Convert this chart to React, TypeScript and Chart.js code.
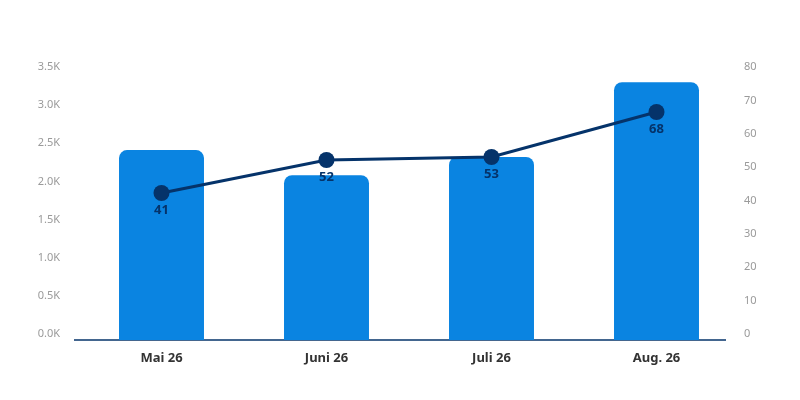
import React, { useEffect, useRef } from 'react';
import { Chart, registerables } from 'chart.js';

Chart.register(...registerables);

const months = ['Mai 26', 'Juni 26', 'Juli 26', 'Aug. 26'];
const barValues = [2490, 2160, 2400, 3380];
const lineValues = [41, 52, 53, 68];

const BAR_COLOR = '#0a84e1';
const NAVY = '#05336a';
const TICK_GREY = '#9a9a9a';

// value labels under the line points
const pointLabels = {
  id: 'pointLabels',
  afterDatasetsDraw(chart: Chart) {
    const { ctx } = chart;
    const meta = chart.getDatasetMeta(1);
    ctx.save();
    ctx.font = 'bold 13px "Noto Sans"';
    ctx.fillStyle = NAVY;
    ctx.textAlign = 'center';
    ctx.textBaseline = 'middle';
    meta.data.forEach((pt: any, i: number) => {
      ctx.fillText(String(lineValues[i]), pt.x, pt.y + 17);
    });
    ctx.restore();
  },
};

// baseline, a little shorter on the right than the plot area
const baseLine = {
  id: 'baseLine',
  beforeDatasetsDraw(chart: Chart) {
    const { ctx, chartArea } = chart;
    ctx.save();
    ctx.strokeStyle = NAVY;
    ctx.lineWidth = 1.5;
    ctx.beginPath();
    ctx.moveTo(chartArea.left - 5, chartArea.bottom);
    ctx.lineTo(chartArea.right - 13, chartArea.bottom);
    ctx.stroke();
    ctx.restore();
  },
};

const App: React.FC = () => {
  const chartRef = useRef<HTMLCanvasElement>(null);
  const chartInstance = useRef<Chart | null>(null);

  useEffect(() => {
    document.body.style.margin = '0';
    if (!chartRef.current) return;
    const ctx = chartRef.current.getContext('2d');
    if (!ctx) return;

    if (chartInstance.current) {
      chartInstance.current.destroy();
    }

    chartInstance.current = new Chart(ctx, {
      type: 'bar',
      data: {
        labels: months,
        datasets: [
          {
            type: 'bar',
            data: barValues,
            backgroundColor: BAR_COLOR,
            borderRadius: { topLeft: 8, topRight: 8, bottomLeft: 0, bottomRight: 0 },
            borderSkipped: false,
            categoryPercentage: 1,
            barPercentage: 0.515,
            yAxisID: 'y',
            order: 2,
          },
          {
            type: 'line',
            data: lineValues,
            borderColor: NAVY,
            borderWidth: 3,
            pointRadius: 8,
            pointBackgroundColor: NAVY,
            pointBorderColor: NAVY,
            pointBorderWidth: 0,
            tension: 0,
            yAxisID: 'yLine',
            order: 1,
          } as any,
        ],
      },
      options: {
        responsive: true,
        maintainAspectRatio: false,
        animation: false,
        layout: { padding: { top: 73, left: 0, right: 0, bottom: 0 } },
        plugins: {
          legend: { display: false },
          tooltip: { enabled: false },
        },
        scales: {
          x: {
            grid: { display: false, drawTicks: false },
            border: { display: false },
            ticks: {
              color: '#333333',
              font: { family: 'Noto Sans', size: 13, weight: 'bold' },
              padding: 10,
            },
            afterFit: (scale: any) => {
              scale.height = 60;
            },
          },
          y: {
            position: 'left',
            min: 0,
            max: 3500,
            grid: { display: false, drawTicks: false },
            border: { display: false },
            ticks: {
              stepSize: 500,
              color: TICK_GREY,
              font: { family: 'Noto Sans', size: 11 },
              padding: 19,
              labelOffset: -6,
              callback: (v: any) => (Number(v) / 1000).toFixed(1) + 'K',
            },
            afterFit: (scale: any) => {
              scale.width = 79;
            },
          },
          y1: {
            position: 'right',
            min: 0,
            max: 80,
            grid: { display: false, drawTicks: false },
            border: { display: false },
            ticks: {
              stepSize: 10,
              color: TICK_GREY,
              font: { family: 'Noto Sans', size: 11 },
              padding: 5,
              labelOffset: -6,
            },
            afterFit: (scale: any) => {
              scale.width = 61;
            },
          },
          yLine: {
            display: false,
            min: -8,
            max: 81,
          },
        },
      },
      plugins: [baseLine, pointLabels],
    });

    return () => {
      if (chartInstance.current) {
        chartInstance.current.destroy();
        chartInstance.current = null;
      }
    };
  }, []);

  return (
    <div style={{ width: '800px', height: '400px', position: 'relative', background: '#ffffff' }}>
      <canvas ref={chartRef} />
    </div>
  );
};

export default App;
